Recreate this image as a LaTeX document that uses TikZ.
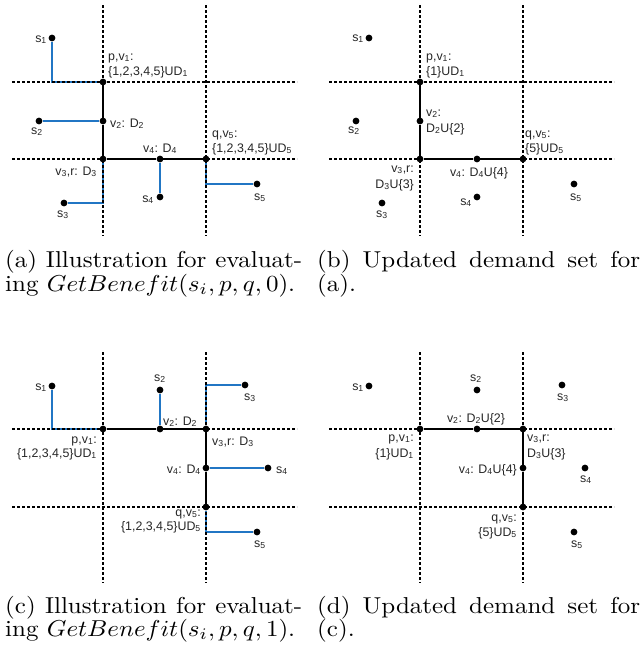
\documentclass[tikz,border=0pt]{standalone}
\usepackage{fontspec}
\usepackage{graphicx}
\newfontfamily\labfont{Liberation Sans}
\definecolor{feedblue}{RGB}{33,118,196}
\newcommand\lsub[1]{\textsubscript{#1}}
\newcommand\capbox[1]{\scalebox{2.5}[2.3]{#1}}
\pgfdeclarelayer{bg}
\pgfsetlayers{bg,main}
\begin{document}
\begin{tikzpicture}[x=1pt,y=-1pt,
  grid/.style={line width=1.5pt, dash pattern=on 3pt off 2pt},
  route/.style={line width=2.8pt, draw=black},
  feed/.style={line width=2pt, draw=feedblue},
  dot/.style={circle, fill=black, inner sep=0pt, minimum size=6.8pt},
  lab/.style={font=\labfont\fontsize{12.4}{14}\selectfont, inner sep=0pt, text=black!85},
  captext/.style={font=\fontsize{10}{12}\selectfont, inner sep=0pt, anchor=base west}]
\useasboundingbox (0,0) rectangle (643,645);

% ---------- grids ----------
\foreach \dx in {0,317} {
  \draw[grid] (12+\dx,82) -- (297+\dx,82);
  \draw[grid] (12+\dx,159) -- (297+\dx,159);
  \draw[grid] (103+\dx,5) -- (103+\dx,236);
  \draw[grid] (206+\dx,5) -- (206+\dx,236);
  \draw[grid] (12+\dx,429) -- (297+\dx,429);
  \draw[grid] (12+\dx,507) -- (297+\dx,507);
  \draw[grid] (103+\dx,352) -- (103+\dx,583);
  \draw[grid] (206+\dx,352) -- (206+\dx,583);
}

% ---------- panel (a) ----------
\node[dot] (a-s1) at (52,38) {};
\node[dot] (a-s2) at (39,121) {};
\node[dot] (a-s3) at (64,203) {};
\node[dot] (a-s4) at (160,197) {};
\node[dot] (a-s5) at (257,184) {};
\node[dot] (a-p) at (103,82) {};
\node[dot] (a-v2) at (103,121) {};
\node[dot] (a-v3) at (103,159) {};
\node[dot] (a-v4) at (160,159) {};
\node[dot] (a-q) at (206,159) {};
\begin{pgfonlayer}{bg}
\draw[feed] (a-s1) |- (a-p);
\draw[feed] (a-s2) -- (a-v2);
\draw[feed] (a-s3) -| (a-v3);
\draw[feed] (a-s4) -- (a-v4);
\draw[feed] (a-s5) -| (a-q);
\draw[route] (a-p) -- (a-v2) -- (a-v3) -- (a-v4) -- (a-q);
\end{pgfonlayer}
\node[lab, anchor=base west] (a-lp1) at (108,60) {p,v\lsub{1}:};
\node[lab, anchor=base west] (a-lp2) at (108,75) {\{1,2,3,4,5\}UD\lsub{1}};
\node[lab, anchor=base west] (a-lv2) at (110,127) {v\lsub{2}: D\lsub{2}};
\node[lab, anchor=base west] (a-lq1) at (212,137) {q,v\lsub{5}:};
\node[lab, anchor=base west] (a-lq2) at (212,152) {\{1,2,3,4,5\}UD\lsub{5}};
\node[lab, anchor=base] (a-lv4) at (160,152) {v\lsub{4}: D\lsub{4}};
\node[lab, anchor=base east] (a-lv3) at (97,175) {v\lsub{3},r: D\lsub{3}};
\node[lab, anchor=base east] (a-ls1) at (47,42) {s\lsub{1}};
\node[lab, anchor=base] (a-ls2) at (37,134) {s\lsub{2}};
\node[lab, anchor=base] (a-ls3) at (63,217) {s\lsub{3}};
\node[lab, anchor=base east] (a-ls4) at (154,202) {s\lsub{4}};
\node[lab, anchor=base] (a-ls5) at (260,200) {s\lsub{5}};

% ---------- panel (b) ----------
\node[dot] (b-s1) at (369,38) {};
\node[dot] (b-s2) at (356,121) {};
\node[dot] (b-s3) at (382,203) {};
\node[dot] (b-s4) at (477,197) {};
\node[dot] (b-s5) at (574,184) {};
\node[dot] (b-p) at (420,82) {};
\node[dot] (b-v2) at (420,121) {};
\node[dot] (b-v3) at (420,159) {};
\node[dot] (b-v4) at (477,159) {};
\node[dot] (b-q) at (523,159) {};
\begin{pgfonlayer}{bg}
\draw[route] (b-p) -- (b-v2) -- (b-v3) -- (b-v4) -- (b-q);
\end{pgfonlayer}
\node[lab, anchor=base west] (b-lp1) at (426,60) {p,v\lsub{1}:};
\node[lab, anchor=base west] (b-lp2) at (426,75) {\{1\}UD\lsub{1}};
\node[lab, anchor=base west] (b-lv2a) at (426,116) {v\lsub{2}:};
\node[lab, anchor=base west] (b-lv2b) at (426,132) {D\lsub{2}U\{2\}};
\node[lab, anchor=base west] (b-lq1) at (525,137) {q,v\lsub{5}:};
\node[lab, anchor=base west] (b-lq2) at (525,152) {\{5\}UD\lsub{5}};
\node[lab, anchor=base east] (b-lv3a) at (414,172) {v\lsub{3},r:};
\node[lab, anchor=base east] (b-lv3b) at (414,188) {D\lsub{3}U\{3\}};
\node[lab, anchor=base] (b-lv4) at (479,176) {v\lsub{4}: D\lsub{4}U\{4\}};
\node[lab, anchor=base east] (b-ls1) at (364,41) {s\lsub{1}};
\node[lab, anchor=base] (b-ls2) at (354,133) {s\lsub{2}};
\node[lab, anchor=base] (b-ls3) at (382,217) {s\lsub{3}};
\node[lab, anchor=base east] (b-ls4) at (472,205) {s\lsub{4}};
\node[lab, anchor=base] (b-ls5) at (576,200) {s\lsub{5}};

% ---------- panel (c) ----------
\node[dot] (c-s1) at (52,386) {};
\node[dot] (c-s2) at (160,390) {};
\node[dot] (c-s3) at (245,385) {};
\node[dot] (c-s4) at (268,468) {};
\node[dot] (c-s5) at (257,532) {};
\node[dot] (c-p) at (103,429) {};
\node[dot] (c-v2) at (160,429) {};
\node[dot] (c-v3) at (206,429) {};
\node[dot] (c-v4) at (206,468) {};
\node[dot] (c-q) at (206,507) {};
\begin{pgfonlayer}{bg}
\draw[feed] (c-s1) |- (c-p);
\draw[feed] (c-s2) -- (c-v2);
\draw[feed] (c-s3) -| (c-v3);
\draw[feed] (c-s4) -- (c-v4);
\draw[feed] (c-s5) -| (c-q);
\draw[route] (c-p) -- (c-v2) -- (c-v3) -- (c-v4) -- (c-q);
\end{pgfonlayer}
\node[lab, anchor=base east] (c-ls1) at (47,390) {s\lsub{1}};
\node[lab, anchor=base] (c-ls2) at (160,381) {s\lsub{2}};
\node[lab, anchor=base] (c-ls3) at (250,400) {s\lsub{3}};
\node[lab, anchor=base west] (c-ls4) at (276,473) {s\lsub{4}};
\node[lab, anchor=base] (c-ls5) at (260,547) {s\lsub{5}};
\node[lab, anchor=base west] (c-lv2) at (163,425) {v\lsub{2}: D\lsub{2}};
\node[lab, anchor=base west] (c-lv3) at (212,445) {v\lsub{3},r: D\lsub{3}};
\node[lab, anchor=base east] (c-lv4) at (201,473) {v\lsub{4}: D\lsub{4}};
\node[lab, anchor=base east] (c-lp1) at (97,443) {p,v\lsub{1}:};
\node[lab, anchor=base east] (c-lp2) at (97,457) {\{1,2,3,4,5\}UD\lsub{1}};
\node[lab, anchor=base east] (c-lq1) at (201,516) {q,v\lsub{5}:};
\node[lab, anchor=base east] (c-lq2) at (201,530) {\{1,2,3,4,5\}UD\lsub{5}};

% ---------- panel (d) ----------
\node[dot] (d-s1) at (369,386) {};
\node[dot] (d-s2) at (477,390) {};
\node[dot] (d-s3) at (562,385) {};
\node[dot] (d-s4) at (585,468) {};
\node[dot] (d-s5) at (574,532) {};
\node[dot] (d-p) at (420,429) {};
\node[dot] (d-v2) at (477,429) {};
\node[dot] (d-v3) at (523,429) {};
\node[dot] (d-v4) at (523,468) {};
\node[dot] (d-q) at (523,507) {};
\begin{pgfonlayer}{bg}
\draw[route] (d-p) -- (d-v2) -- (d-v3) -- (d-v4) -- (d-q);
\end{pgfonlayer}
\node[lab, anchor=base east] (d-ls1) at (364,390) {s\lsub{1}};
\node[lab, anchor=base] (d-ls2) at (476,381) {s\lsub{2}};
\node[lab, anchor=base] (d-ls3) at (563,400) {s\lsub{3}};
\node[lab, anchor=base] (d-ls4) at (586,482) {s\lsub{4}};
\node[lab, anchor=base] (d-ls5) at (577,547) {s\lsub{5}};
\node[lab, anchor=base] (d-lv2) at (476,422) {v\lsub{2}: D\lsub{2}U\{2\}};
\node[lab, anchor=base east] (d-lp1) at (414,441) {p,v\lsub{1}:};
\node[lab, anchor=base east] (d-lp2) at (414,457) {\{1\}UD\lsub{1}};
\node[lab, anchor=base west] (d-lv3a) at (527,441) {v\lsub{3},r:};
\node[lab, anchor=base west] (d-lv3b) at (527,457) {D\lsub{3}U\{3\}};
\node[lab, anchor=base east] (d-lv4) at (517,473) {v\lsub{4}: D\lsub{4}U\{4\}};
\node[lab, anchor=base east] (d-lq1) at (517,521) {q,v\lsub{5}:};
\node[lab, anchor=base east] (d-lq2) at (517,536) {\{5\}UD\lsub{5}};

% ---------- captions ----------
\node[captext] (capa1) at (5,267) {\capbox{\makebox[118.8pt][s]{(a) Illustration for evaluat-}}};
\node[captext] (capa2) at (5,291) {\capbox{ing $GetBenefit(s_i,p,q,0)$.}};
\node[captext] (capb1) at (317,267) {\capbox{\makebox[129.2pt][s]{(b) Updated demand set for}}};
\node[captext] (capb2) at (317,291) {\capbox{(a).}};
\node[captext] (capc1) at (5,613) {\capbox{\makebox[118.8pt][s]{(c) Illustration for evaluat-}}};
\node[captext] (capc2) at (5,636) {\capbox{ing $GetBenefit(s_i,p,q,1)$.}};
\node[captext] (capd1) at (317,613) {\capbox{\makebox[129.2pt][s]{(d) Updated demand set for}}};
\node[captext] (capd2) at (317,636) {\capbox{(c).}};
\end{tikzpicture}
\end{document}
